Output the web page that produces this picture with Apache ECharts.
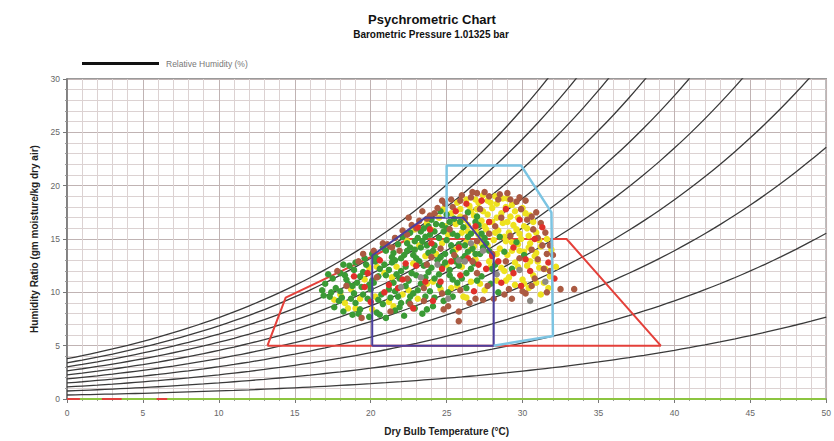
<!DOCTYPE html>
<html><head><meta charset="utf-8">
<script src="https://cdn.jsdelivr.net/npm/echarts@6/dist/echarts.min.js"></script>
<style>html,body{margin:0;padding:0;background:#fff}#c{width:834px;height:441px}</style>
</head><body><div id="c"></div>
<script>
// ---- data ----
const temperatures = [0,1,2,3,4,5,6,7,8,9,10,11,12,13,14,15,16,17,18,19,20,21,22,23,24,25,26,27,28,29,30,31,32,33,34,35,36,37,38,39,40,41,42,43,44,45,46,47,48,49,50];
// saturation vapour pressure (kPa) at each temperature
const satPressure = [0.6112,0.6571,0.7060,0.7581,0.8136,0.8726,0.9354,1.0021,1.0730,1.1482,1.2282,1.3129,1.4028,1.4981,1.5989,1.7057,1.8188,1.9383,2.0647,2.1982,2.3392,2.4881,2.6452,2.8109,2.9856,3.1697,3.3637,3.5679,3.7828,4.0089,4.2467,4.4966,4.7592,5.0351,5.3247,5.6286,5.9475,6.2818,6.6324,6.9997,7.3844,7.7873,8.2090,8.6503,9.1118,9.5944,10.099,10.626,11.177,11.752,12.352];
const rhLevels = [10,20,30,40,50,60,70,80,90,100];
const baroKPa = 101.325;

const xTicks = [0,5,10,15,20,25,30,35,40,45,50];
const yTicks = [0,5,10,15,20,25,30];

const redZone = [[13.2,5],[14.4,9.5],[22.5,15],[32.9,15],[39.1,5],[13.2,5]];
const navyZone = [[20.1,5],[20.1,13.45],[23.6,17.0],[26.1,17.0],[28.1,13.45],[28.1,5],[20.1,5]];
const cyanZone = [[25.0,17.0],[25.0,21.9],[29.9,21.9],[31.9,17.5],[32.0,5.9],[28.1,5]];

const baselineGreen = [[0,0],[50,0]];
const baselineRedSegments = [[[0,0],[0.85,0]],[[2.3,0],[3.6,0]],[[5.9,0],[6.6,0]]];

const greenPts = [[17.6,8.6],[18.2,8.2],[18.8,7.9],[19.3,8.4],[19.9,7.7],[20.4,8.1],[21.0,7.6],[21.6,8.3],[22.2,7.8],[22.9,8.5],[23.4,8.0],[19.0,9.0],[20.8,8.9],[22.5,9.1],[17.9,9.2],[24.1,8.7],
[16.8,10.2],[17.3,9.6],[17.7,10.4],[18.1,9.5],[18.5,10.8],[18.9,9.9],[19.4,10.5],[19.8,9.4],[20.2,10.9],[20.7,9.8],[21.2,10.3],[21.8,9.6],[22.3,10.6],[22.8,9.9],[23.3,10.8],[23.9,10.1],[24.5,10.7],[25.1,10.0],[25.7,10.9],[26.3,10.4],[17.0,10.8],[19.1,10.9],[21.5,10.9],[24.2,9.5],
[17.5,11.3],[18.0,11.8],[18.4,11.2],[18.9,12.1],[19.3,11.5],[19.7,12.6],[20.1,11.1],[20.6,12.2],[21.0,11.6],[21.4,12.8],[21.9,11.3],[22.3,12.4],[22.7,11.8],[23.2,12.9],[23.6,11.4],[24.0,12.3],[24.5,11.7],[24.9,12.8],[25.4,11.2],[25.8,12.5],[26.3,11.8],[26.8,12.7],[27.3,11.5],[18.6,12.5],[20.3,12.9],[22.0,12.0],[23.8,11.9],[25.2,12.1],
[19.6,13.2],[20.1,13.6],[20.5,13.1],[21.0,13.9],[21.4,13.3],[21.8,14.5],[22.2,13.5],[22.6,14.2],[23.0,13.2],[23.4,14.8],[23.8,13.7],[24.2,14.4],[24.6,13.3],[25.0,14.9],[25.4,13.8],[25.8,14.5],[26.2,13.4],[26.7,14.1],[27.2,13.6],[27.6,14.6],[22.9,14.0],[24.4,13.0],[20.8,14.2],[26.0,13.1],[21.6,13.0],
[22.1,15.2],[22.6,15.6],[23.1,15.1],[23.5,16.0],[23.9,15.4],[24.3,16.4],[24.8,15.7],[25.2,16.6],[25.7,15.3],[26.1,16.1],[26.6,15.5],[27.1,16.3],[27.5,15.1],[24.0,16.8],[25.5,16.9],[23.3,15.7],
[25.0,17.3],[26.4,17.5],[27.0,17.1],[24.6,17.6],
[28.2,12.6],[28.8,13.8],[29.3,12.2],[28.5,15.2],[29.6,14.7],[30.1,13.5],[27.9,10.8],[28.4,10.0],
[18.0,10.1],[18.7,9.4],[19.5,9.8],[20.0,10.3],[20.5,9.3],[21.3,9.5],[21.6,10.1],[22.0,9.0],[22.6,9.6],[23.1,10.2],[23.6,9.6],[24.8,9.2],[25.4,9.6],[19.2,8.0],[20.6,7.9],[21.9,8.6],[23.7,8.4],[18.3,11.6],[18.8,10.6],[19.5,11.9],[19.9,10.7],[20.5,11.5],[21.2,12.1],[21.7,11.7],[22.5,11.1],[23.0,11.6],[23.5,12.5],[24.2,11.3],[24.7,12.4],[25.2,11.6],[25.6,12.9],[26.0,11.3],[26.6,12.2],[27.0,11.1],[20.3,13.3],[20.9,12.6],[21.5,13.7],[22.0,13.2],[22.4,13.9],[22.8,13.5],[23.3,14.2],[23.7,14.4],[24.1,13.9],[24.9,13.6],[25.3,14.4],[25.6,13.3],[26.4,13.8],[26.9,13.6],[27.4,14.2],[22.4,14.6],[22.9,14.8],[23.6,15.2],[24.5,15.1],[25.0,16.0],[25.4,15.5],[25.9,16.6],[26.4,15.2],[26.9,16.6],[27.3,15.5],[24.2,15.7],[24.7,16.3],[23.8,16.2],[26.2,14.4],[27.8,13.9],[28.0,12.2],[19.0,12.8],[18.2,12.6],[17.4,10.0],[16.9,9.7],[17.2,11.7]];

const yellowPts = [[17.6,9.3],[18.3,9.0],[19.0,8.5],[18.7,10.3],[19.6,11.2],[20.3,9.6],[21.2,9.1],[20.9,11.8],[22.5,10.2],[21.7,12.4],[19.9,12.3],[23.1,9.4],[20.1,8.4],
[22.4,14.8],[22.9,15.9],[23.7,16.5],[23.2,14.4],[24.1,15.8],[24.5,17.0],[24.9,16.2],[25.3,17.4],[25.6,16.4],[25.9,17.8],[26.2,16.8],[26.5,18.1],[26.8,17.2],[27.1,18.4],[27.4,17.6],[27.7,18.6],[28.0,17.9],[28.3,18.3],[28.6,17.4],[28.9,18.0],[29.2,17.1],[29.5,17.6],[26.0,15.6],[26.4,16.3],[26.9,15.8],[27.3,16.7],[27.6,15.9],[28.0,16.6],[28.4,15.8],[28.7,16.5],[29.1,15.6],[29.4,16.3],[29.8,15.5],[30.1,16.2],[30.4,15.3],[26.3,14.7],[26.8,14.3],[27.2,15.0],[27.7,14.4],[28.1,14.9],[28.5,14.1],[28.9,14.8],[29.3,13.9],[29.7,14.5],[30.1,13.8],[30.5,14.6],[30.9,13.7],[31.2,14.3],[25.1,15.4],[24.7,14.6],[25.6,14.0],[24.3,13.6],[25.0,12.6],[26.0,12.4],[26.9,13.1],[27.8,12.9],[28.6,12.3],[29.5,12.8],[30.3,12.5],[31.0,12.9],[29.1,11.4],[30.0,11.2],[30.7,11.6],[31.5,12.2],[31.4,10.9],[31.8,11.5],[30.4,10.4],[31.2,9.8],[28.3,11.1],[27.5,10.2],[26.6,11.0],[29.0,18.8],[28.2,19.0],[27.4,19.1],[30.0,17.9],[30.5,17.2],[23.6,13.4],[22.8,12.7],[24.1,11.0],[25.3,10.4],[26.1,9.6],
[24.8,17.8],[25.7,18.4],[26.3,18.7],[26.9,18.7],[27.9,18.4],[28.7,18.8],[29.3,18.2],[29.7,17.0],[30.2,17.4],[30.7,16.6],[30.3,16.0],[30.9,15.6],[31.1,14.9],[29.6,15.9],[29.0,16.6],[28.3,17.0],[27.7,17.3],[27.0,17.8],[26.6,17.6],[25.9,17.1],[25.5,16.9],[26.4,15.7],[27.1,15.4],[27.5,16.2],[28.2,15.6],[28.8,15.2],[29.3,14.7],[29.9,15.0],[30.4,14.2],[30.8,13.4],[29.8,13.9],[29.0,13.5],[28.3,13.6],[27.3,14.6],[26.6,14.0],[27.9,12.4],[28.8,12.0],[29.7,12.4],[30.5,12.9],[31.1,12.3],[30.1,10.8],[30.9,10.9],[29.5,10.7],[28.9,11.1],[26.3,9.5],[27.2,10.8],[25.7,10.6],[24.6,10.3],[23.7,10.8],[22.1,9.8],[21.4,11.4],[20.4,12.4],[19.3,9.4],[18.5,8.5],[18.0,9.8],[21.5,8.7],[31.9,14.0],[31.7,10.4],[32.2,12.4],[31.6,15.0]];

const brownPts = [[20.2,13.9],[19.5,13.6],[21.1,14.5],[21.6,15.1],[22.1,15.8],[22.7,16.3],[23.2,16.7],[23.4,17.6],[23.9,17.2],[24.4,17.9],[24.9,18.3],[25.4,18.0],[25.9,18.6],[26.6,18.9],[27.0,19.3],[27.8,19.0],[28.4,18.7],[29.0,19.3],[29.6,18.5],[29.9,17.8],[30.3,16.8],[30.7,15.9],[31.0,15.1],[31.3,14.4],[31.6,13.6],[31.0,13.1],[31.4,12.2],[32.5,10.3],[30.6,10.6],[29.3,9.4],[30.2,9.9],[28.8,9.8],[27.4,9.3],[26.5,9.0],[25.8,8.2],[25.8,7.3],[24.8,8.4],[23.5,9.2],[22.6,8.9],[21.3,8.2],[19.4,7.6],[18.4,10.6],[17.8,12.0],[19.2,12.9],[20.4,11.4],[22.4,11.3],[23.5,10.4],[24.7,9.9],[25.9,10.2],[27.0,11.8],[28.0,13.6],[28.9,12.9],[29.8,13.2],[30.6,14.0],[29.2,15.3],[28.2,16.2],[27.2,17.8],[26.2,17.0],[25.2,15.9],[24.6,14.1],[23.7,12.6],[27.8,15.5],[26.7,12.9],[30.9,17.5],[30.2,18.6],[28.6,17.0],[27.0,14.8],[25.5,13.5],[21.9,13.9],[22.5,17.0],
[20.8,14.6],[21.4,14.2],[22.4,15.4],[23.0,16.0],[23.7,16.9],[24.2,17.4],[24.7,18.6],[25.3,18.7],[26.0,19.1],[26.7,19.4],[27.5,19.4],[28.5,19.2],[29.2,18.7],[29.8,18.9],[30.6,17.1],[31.2,16.5],[31.5,15.6],[31.8,14.4],[32.0,13.5],[31.8,12.0],[30.8,11.3],[30.0,10.1],[29.1,10.3],[28.1,9.4],[27.7,10.6],[26.9,9.4],[25.1,8.7],[33.4,10.3],[31.6,10.0],[24.0,13.3]];

const redPts = [[21.2,10.7],[23.0,12.5],[24.7,12.2],[28.0,13.4],[28.6,10.9],[20.9,10.0],[22.1,11.2],[19.8,11.8],[25.9,11.6],[26.8,10.1],[27.6,12.2],[29.4,11.8],[29.9,10.6],[24.1,9.2],[22.8,8.5],[30.8,15.0],[31.3,16.1],[29.8,16.8],[28.9,17.8],[27.3,18.6],[25.8,14.2],[26.9,16.2],[24.0,14.6],[23.1,16.1],[26.3,18.3],[31.7,12.8],[30.5,12.0],[20.6,13.0],[18.9,11.5],[32.1,11.3],
[21.8,10.4],[23.6,11.0],[25.3,12.9],[26.4,13.2],[27.1,12.6],[28.4,12.9],[29.4,14.2],[30.2,13.1],[23.9,15.9],[27.8,16.6],[25.6,17.6],[22.3,12.7],[20.0,9.1],[19.6,10.5],[24.6,11.0]];

const grayPts = [[25.8,13.0],[26.2,12.9],[27.4,13.9],[24.4,12.6],[28.3,11.7],[29.8,12.1],[23.3,11.4],[26.6,14.6],[22.0,10.5],[31.5,11.0],[30.5,9.2],[25.1,9.4]];

// ---- build ----
function rhCurve(rh){
  const pts = [];
  for (let i = 0; i < temperatures.length; i++){
    const e = rh / 100 * satPressure[i];
    const w = 622 * e / (baroKPa - e);
    pts.push([temperatures[i], w]);
    if (w > 30) break;
  }
  return pts;
}
const FONT = '"Liberation Sans", Arial, sans-serif';
const series = [];
rhLevels.forEach(rh => {
  series.push({type:'line', name:'Relative Humidity (%)', data: rhCurve(rh), symbol:'none', smooth:0.3,
    color:'#1a1a1a', lineStyle:{color:'#3a3a3a', width:1.3}, silent:true, clip:true, z:2});
});
series.push({type:'line', name:'base', data: baselineGreen, symbol:'none', lineStyle:{color:'#8cc540', width:2}, silent:true, z:3});
baselineRedSegments.forEach(seg => series.push({type:'line', name:'baseRed', data: seg, symbol:'none', lineStyle:{color:'#e0403a', width:2}, silent:true, z:3}));
series.push({type:'line', name:'zoneRed', data: redZone, symbol:'none', lineStyle:{color:'#e4403a', width:2}, silent:true, z:3});
const sc = (name, data, color) => ({type:'scatter', name, data, symbol:'circle', symbolSize:6.5, itemStyle:{color, opacity:1}, silent:true, z:4});
series.push(sc('yellow', yellowPts, '#eee21f'));
series.push(sc('green', greenPts, '#3a9a35'));
series.push(sc('brown', brownPts, '#ab5a42'));
series.push(sc('red', redPts, '#e0302a'));
series.push(sc('gray', grayPts, '#8e8a84'));
series.push({type:'line', name:'zoneNavy', data: navyZone, symbol:'none', lineStyle:{color:'#4b3f9e', width:2}, silent:true, z:5});
series.push({type:'line', name:'zoneCyan', data: cyanZone, symbol:'none', lineStyle:{color:'#7cc4e2', width:2.5}, silent:true, z:5});

const chart = echarts.init(document.getElementById('c'), null, {renderer:'svg'});
chart.setOption({
  animation:false,
  backgroundColor:'#ffffff',
  graphic:[
    {type:'text', x:432, y:19, style:{text:'Psychrometric Chart', font:'bold 13px ' + FONT, fill:'#111', align:'center', verticalAlign:'middle'}},
    {type:'text', x:431, y:34, style:{text:'Barometric Pressure 1.01325 bar', font:'bold 10px ' + FONT, fill:'#111', align:'center', verticalAlign:'middle'}}
  ],
  legend:{data:['Relative Humidity (%)'], left:82, top:59, padding:0, itemWidth:77, itemHeight:3, icon:'rect',
    itemStyle:{color:'#111'}, textStyle:{fontFamily:FONT, fontSize:8.5, color:'#777', padding:[0,0,0,2]}},
  grid:{left:67, right:5, top:79, bottom:40, show:true, borderColor:'#7a7a7a', borderWidth:1.5, backgroundColor:'#fff'},
  xAxis:{type:'value', min:xTicks[0], max:xTicks[xTicks.length-1], interval:5,
    name:'Dry Bulb Temperature (°C)', nameLocation:'middle', nameGap:27,
    nameTextStyle:{fontFamily:FONT, fontSize:10, fontWeight:'bold', color:'#222'},
    axisLine:{show:true, lineStyle:{color:'#777', width:1.5}},
    axisTick:{show:true, length:4, lineStyle:{color:'#777'}},
    minorTick:{show:true, splitNumber:5, length:2, lineStyle:{color:'#999'}},
    axisLabel:{fontFamily:FONT, fontSize:8.5, color:'#666', margin:9, formatter:v => xTicks.includes(v) ? String(v) : ''},
    splitLine:{show:true, lineStyle:{color:'#c0b3b3', width:1}},
    minorSplitLine:{show:true, lineStyle:{color:'#dcd2d2', width:1}}},
  yAxis:{type:'value', min:yTicks[0], max:yTicks[yTicks.length-1], interval:5,
    name:'Humidity Ratio (gm moisture/kg dry air)', nameLocation:'middle', nameGap:23,
    nameTextStyle:{fontFamily:FONT, fontSize:10, fontWeight:'bold', color:'#222'},
    axisLine:{show:true, lineStyle:{color:'#777', width:1.5}},
    axisTick:{show:true, length:4, lineStyle:{color:'#777'}},
    minorTick:{show:true, splitNumber:5, length:2, lineStyle:{color:'#999'}},
    axisLabel:{fontFamily:FONT, fontSize:8.5, color:'#666', margin:7, formatter:v => yTicks.includes(v) ? String(v) : ''},
    splitLine:{show:true, lineStyle:{color:'#c0b3b3', width:1}},
    minorSplitLine:{show:true, lineStyle:{color:'#dcd2d2', width:1}}},
  series
});
</script></body></html>
